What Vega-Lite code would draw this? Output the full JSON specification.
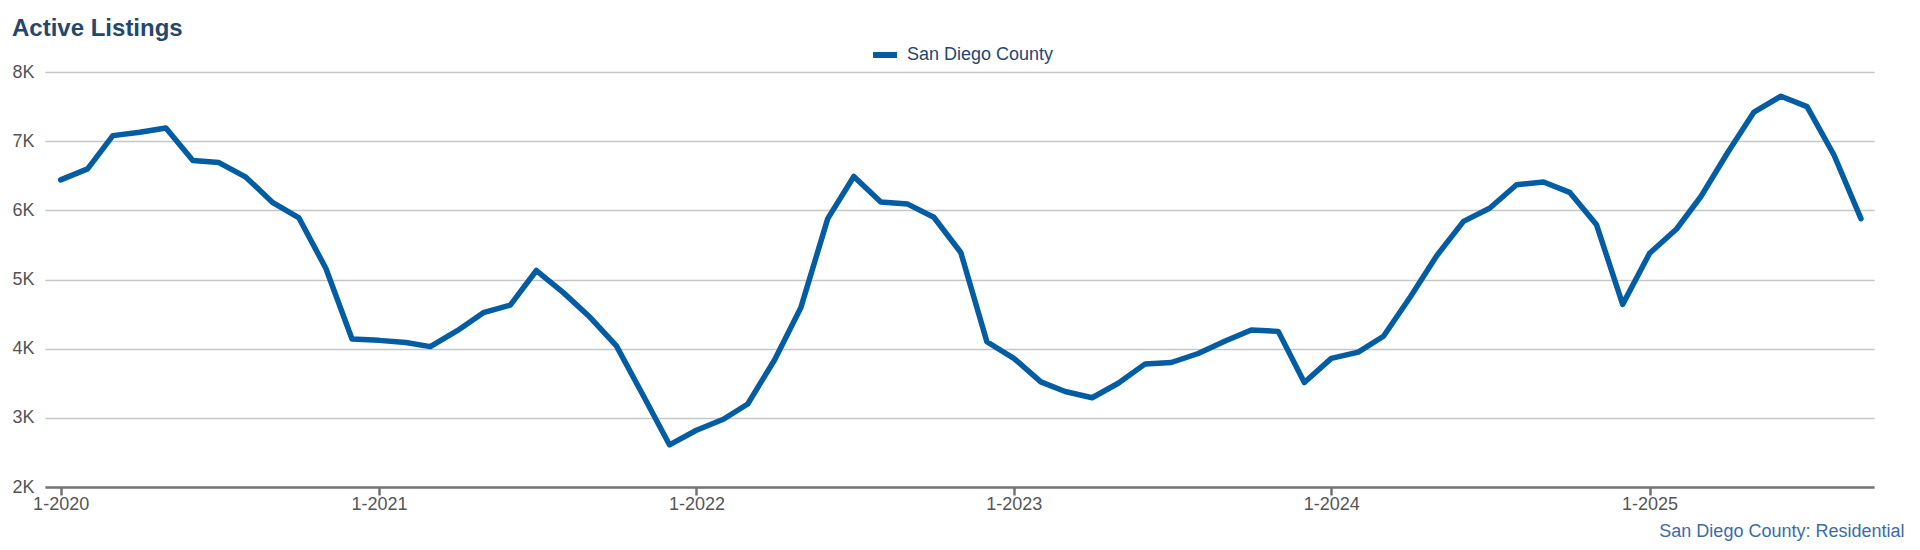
{
  "$schema": "https://vega.github.io/schema/vega-lite/v6.json",
  "width": 1829,
  "height": 415,
  "autosize": {"type": "none"},
  "padding": {"left": 45, "top": 72, "right": 46, "bottom": 63},
  "background": "white",
  "title": {
    "text": "Active Listings",
    "anchor": "start",
    "frame": "group",
    "orient": "top",
    "dx": -33,
    "dy": 27,
    "baseline": "alphabetic",
    "offset": 7,
    "font": "Liberation Sans",
    "fontSize": 24,
    "fontWeight": "bold",
    "color": "#25476d"
  },
  "config": {
    "view": {"stroke": null},
    "font": "Liberation Sans"
  },
  "data": {
    "values": [
      {"date": "2020-01-01T00:00:00", "listings": 6440, "series": "San Diego County"},
      {"date": "2020-02-01T00:00:00", "listings": 6600, "series": "San Diego County"},
      {"date": "2020-03-01T00:00:00", "listings": 7080, "series": "San Diego County"},
      {"date": "2020-04-01T00:00:00", "listings": 7130, "series": "San Diego County"},
      {"date": "2020-05-01T00:00:00", "listings": 7190, "series": "San Diego County"},
      {"date": "2020-06-01T00:00:00", "listings": 6720, "series": "San Diego County"},
      {"date": "2020-07-01T00:00:00", "listings": 6690, "series": "San Diego County"},
      {"date": "2020-08-01T00:00:00", "listings": 6480, "series": "San Diego County"},
      {"date": "2020-09-01T00:00:00", "listings": 6110, "series": "San Diego County"},
      {"date": "2020-10-01T00:00:00", "listings": 5890, "series": "San Diego County"},
      {"date": "2020-11-01T00:00:00", "listings": 5160, "series": "San Diego County"},
      {"date": "2020-12-01T00:00:00", "listings": 4140, "series": "San Diego County"},
      {"date": "2021-01-01T00:00:00", "listings": 4120, "series": "San Diego County"},
      {"date": "2021-02-01T00:00:00", "listings": 4090, "series": "San Diego County"},
      {"date": "2021-03-01T00:00:00", "listings": 4030, "series": "San Diego County"},
      {"date": "2021-04-01T00:00:00", "listings": 4260, "series": "San Diego County"},
      {"date": "2021-05-01T00:00:00", "listings": 4520, "series": "San Diego County"},
      {"date": "2021-06-01T00:00:00", "listings": 4630, "series": "San Diego County"},
      {"date": "2021-07-01T00:00:00", "listings": 5130, "series": "San Diego County"},
      {"date": "2021-08-01T00:00:00", "listings": 4810, "series": "San Diego County"},
      {"date": "2021-09-01T00:00:00", "listings": 4450, "series": "San Diego County"},
      {"date": "2021-10-01T00:00:00", "listings": 4040, "series": "San Diego County"},
      {"date": "2021-11-01T00:00:00", "listings": 3320, "series": "San Diego County"},
      {"date": "2021-12-01T00:00:00", "listings": 2610, "series": "San Diego County"},
      {"date": "2022-01-01T00:00:00", "listings": 2820, "series": "San Diego County"},
      {"date": "2022-02-01T00:00:00", "listings": 2980, "series": "San Diego County"},
      {"date": "2022-03-01T00:00:00", "listings": 3200, "series": "San Diego County"},
      {"date": "2022-04-01T00:00:00", "listings": 3840, "series": "San Diego County"},
      {"date": "2022-05-01T00:00:00", "listings": 4590, "series": "San Diego County"},
      {"date": "2022-06-01T00:00:00", "listings": 5880, "series": "San Diego County"},
      {"date": "2022-07-01T00:00:00", "listings": 6490, "series": "San Diego County"},
      {"date": "2022-08-01T00:00:00", "listings": 6120, "series": "San Diego County"},
      {"date": "2022-09-01T00:00:00", "listings": 6090, "series": "San Diego County"},
      {"date": "2022-10-01T00:00:00", "listings": 5900, "series": "San Diego County"},
      {"date": "2022-11-01T00:00:00", "listings": 5390, "series": "San Diego County"},
      {"date": "2022-12-01T00:00:00", "listings": 4100, "series": "San Diego County"},
      {"date": "2023-01-01T00:00:00", "listings": 3860, "series": "San Diego County"},
      {"date": "2023-02-01T00:00:00", "listings": 3520, "series": "San Diego County"},
      {"date": "2023-03-01T00:00:00", "listings": 3380, "series": "San Diego County"},
      {"date": "2023-04-01T00:00:00", "listings": 3290, "series": "San Diego County"},
      {"date": "2023-05-01T00:00:00", "listings": 3500, "series": "San Diego County"},
      {"date": "2023-06-01T00:00:00", "listings": 3780, "series": "San Diego County"},
      {"date": "2023-07-01T00:00:00", "listings": 3800, "series": "San Diego County"},
      {"date": "2023-08-01T00:00:00", "listings": 3930, "series": "San Diego County"},
      {"date": "2023-09-01T00:00:00", "listings": 4110, "series": "San Diego County"},
      {"date": "2023-10-01T00:00:00", "listings": 4270, "series": "San Diego County"},
      {"date": "2023-11-01T00:00:00", "listings": 4250, "series": "San Diego County"},
      {"date": "2023-12-01T00:00:00", "listings": 3510, "series": "San Diego County"},
      {"date": "2024-01-01T00:00:00", "listings": 3860, "series": "San Diego County"},
      {"date": "2024-02-01T00:00:00", "listings": 3950, "series": "San Diego County"},
      {"date": "2024-03-01T00:00:00", "listings": 4180, "series": "San Diego County"},
      {"date": "2024-04-01T00:00:00", "listings": 4750, "series": "San Diego County"},
      {"date": "2024-05-01T00:00:00", "listings": 5340, "series": "San Diego County"},
      {"date": "2024-06-01T00:00:00", "listings": 5840, "series": "San Diego County"},
      {"date": "2024-07-01T00:00:00", "listings": 6030, "series": "San Diego County"},
      {"date": "2024-08-01T00:00:00", "listings": 6370, "series": "San Diego County"},
      {"date": "2024-09-01T00:00:00", "listings": 6410, "series": "San Diego County"},
      {"date": "2024-10-01T00:00:00", "listings": 6260, "series": "San Diego County"},
      {"date": "2024-11-01T00:00:00", "listings": 5790, "series": "San Diego County"},
      {"date": "2024-12-01T00:00:00", "listings": 4640, "series": "San Diego County"},
      {"date": "2025-01-01T00:00:00", "listings": 5380, "series": "San Diego County"},
      {"date": "2025-02-01T00:00:00", "listings": 5730, "series": "San Diego County"},
      {"date": "2025-03-01T00:00:00", "listings": 6200, "series": "San Diego County"},
      {"date": "2025-04-01T00:00:00", "listings": 6840, "series": "San Diego County"},
      {"date": "2025-05-01T00:00:00", "listings": 7420, "series": "San Diego County"},
      {"date": "2025-06-01T00:00:00", "listings": 7650, "series": "San Diego County"},
      {"date": "2025-07-01T00:00:00", "listings": 7500, "series": "San Diego County"},
      {"date": "2025-08-01T00:00:00", "listings": 6800, "series": "San Diego County"},
      {"date": "2025-09-01T00:00:00", "listings": 5880, "series": "San Diego County"}
    ]
  },
  "mark": {"type": "line", "strokeWidth": 5.5, "strokeJoin": "round", "strokeCap": "round"},
  "encoding": {
    "x": {
      "field": "date",
      "type": "temporal",
      "scale": {"domain": [{"year": 2019, "month": 12, "date": 14}, {"year": 2025, "month": 9, "date": 16}]},
      "axis": {
        "values": [
          {"year": 2020, "month": 1, "date": 1},
          {"year": 2021, "month": 1, "date": 1},
          {"year": 2022, "month": 1, "date": 1},
          {"year": 2023, "month": 1, "date": 1},
          {"year": 2024, "month": 1, "date": 1},
          {"year": 2025, "month": 1, "date": 1}
        ],
        "format": "%-m-%Y",
        "grid": false,
        "domainColor": "#737373",
        "domainWidth": 2.5,
        "tickColor": "#737373",
        "tickWidth": 2.5,
        "tickSize": 8,
        "labelFont": "Liberation Sans",
        "labelFontSize": 18,
        "labelColor": "#555555",
        "labelBaseline": "middle",
        "labelPadding": 9,
        "labelFlush": false,
        "title": "San Diego County: Residential",
        "titleFont": "Liberation Sans",
        "titleFontSize": 18,
        "titleFontWeight": "normal",
        "titleColor": "#3b6ca6",
        "titleAnchor": null,
        "titleAlign": "right",
        "titleBaseline": "middle",
        "titleX": 1859,
        "titleY": 44
      }
    },
    "y": {
      "field": "listings",
      "type": "quantitative",
      "scale": {"domain": [2000, 8000], "nice": false, "zero": false},
      "axis": {
        "values": [2000, 3000, 4000, 5000, 6000, 7000, 8000],
        "labelExpr": "datum.value / 1000 + 'K'",
        "domain": false,
        "ticks": false,
        "tickSize": 0,
        "grid": true,
        "gridColor": "#c6c6c6",
        "gridWidth": 1.5,
        "labelAlign": "left",
        "labelBaseline": "middle",
        "labelPadding": 33,
        "labelFont": "Liberation Sans",
        "labelFontSize": 18,
        "labelColor": "#555555",
        "title": null
      }
    },
    "color": {
      "field": "series",
      "type": "nominal",
      "scale": {"range": ["#045ca3"]},
      "legend": {
        "title": null,
        "orient": "none",
        "legendX": 825,
        "legendY": -32,
        "direction": "horizontal",
        "symbolType": "stroke",
        "symbolSize": 576,
        "symbolStrokeWidth": 6,
        "labelFont": "Liberation Sans",
        "labelFontSize": 18,
        "labelColor": "#25476d",
        "labelOffset": 7
      }
    }
  }
}
